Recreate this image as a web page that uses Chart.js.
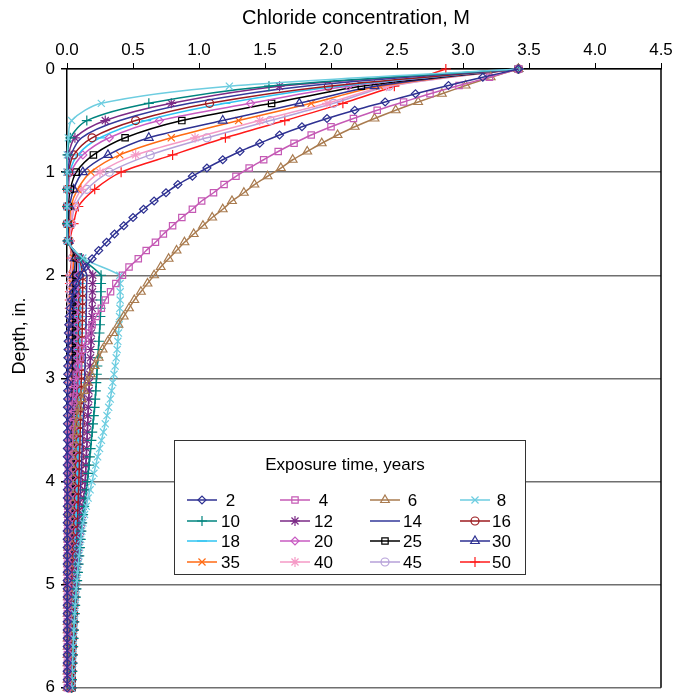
<!DOCTYPE html>
<html>
<head>
<meta charset="utf-8">
<script src="https://cdn.jsdelivr.net/npm/chart.js@4.4.1/dist/chart.umd.min.js"></script>
<style>
  html, body { margin: 0; padding: 0; background: #fff; }
</style>
</head>
<body>
<canvas id="chlorideChart" width="677" height="694"></canvas>
<script>
// depth grids, in.
const depthFine = [0, 0.08, 0.16, 0.24, 0.32, 0.40, 0.48, 0.56, 0.64, 0.72, 0.80, 0.88, 0.96, 1.04, 1.12, 1.20,
  1.28, 1.36, 1.44, 1.52, 1.60, 1.68, 1.76, 1.84, 1.92,
  2.00, 2.08, 2.16, 2.24, 2.32, 2.40, 2.48, 2.56, 2.64, 2.72, 2.80, 2.88, 2.96, 3.04, 3.12, 3.20, 3.28,
  3.36, 3.44, 3.52, 3.60, 3.68, 3.76, 3.84, 3.92, 4.00, 4.08, 4.16, 4.24, 4.32, 4.40, 4.48, 4.56, 4.64,
  4.72, 4.80, 4.88, 4.96, 5.04, 5.12, 5.20, 5.28, 5.36, 5.44, 5.52, 5.60, 5.68, 5.76, 5.84, 5.92, 6.00];
const depthTop = [0, 0.167, 0.333, 0.5, 0.667, 0.833, 1, 1.167, 1.333, 1.5, 1.667, 1.833];
const depthDeep = depthFine.slice(25);
const depthLayered = depthTop.concat(depthDeep);

const xTicks = [0, 0.5, 1, 1.5, 2, 2.5, 3, 3.5, 4, 4.5];
const yTicks = [0, 1, 2, 3, 4, 5, 6];

// chloride concentration, M (2, 4, 6 yrs on the fine grid)
const c2 = [3.42, 3.15, 2.89, 2.64, 2.41, 2.18, 1.97, 1.78, 1.61, 1.46, 1.31, 1.18, 1.06, 0.95, 0.84, 0.75, 0.66, 0.58, 0.50, 0.43, 0.36, 0.30, 0.24, 0.19, 0.14,
  0.100, 0.070, 0.050, 0.035, 0.025, 0.018, 0.014, 0.011, 0.009, 0.008, 0.007, 0.006, 0.006, 0.005, 0.005, 0.005, 0.004, 0.004, 0.004, 0.004,
  0.004, 0.003, 0.003, 0.003, 0.003, 0.003, 0.003, 0.003, 0.003, 0.003, 0.002, 0.002, 0.002, 0.002, 0.002, 0.002, 0.002, 0.002, 0.002, 0.002,
  0.002, 0.002, 0.002, 0.002, 0.002, 0.002, 0.002, 0.002, 0.002, 0.002, 0.002];
const c4 = [3.42, 3.20, 2.97, 2.75, 2.55, 2.35, 2.17, 2.00, 1.85, 1.72, 1.60, 1.49, 1.38, 1.28, 1.19, 1.11, 1.02, 0.95, 0.87, 0.80, 0.73, 0.67, 0.60, 0.54, 0.47,
  0.42, 0.37, 0.33, 0.29, 0.26, 0.22, 0.19, 0.165, 0.14, 0.12, 0.10, 0.085, 0.07, 0.06, 0.05, 0.042, 0.035, 0.030, 0.025, 0.021,
  0.018, 0.015, 0.013, 0.011, 0.010, 0.009, 0.008, 0.007, 0.007, 0.006, 0.006, 0.005, 0.005, 0.005, 0.004, 0.004, 0.004, 0.004, 0.004, 0.003,
  0.003, 0.003, 0.003, 0.003, 0.003, 0.003, 0.003, 0.003, 0.003, 0.003, 0.003];
const c6 = [3.42, 3.21, 3.02, 2.84, 2.66, 2.49, 2.33, 2.18, 2.05, 1.93, 1.82, 1.71, 1.62, 1.52, 1.42, 1.34, 1.25, 1.18, 1.10, 1.03, 0.96, 0.89, 0.83, 0.77, 0.71,
  0.66, 0.61, 0.56, 0.51, 0.47, 0.43, 0.39, 0.35, 0.31, 0.27, 0.24, 0.21, 0.18, 0.155, 0.13, 0.11, 0.09, 0.075, 0.065, 0.055,
  0.047, 0.040, 0.034, 0.029, 0.025, 0.022, 0.019, 0.017, 0.015, 0.013, 0.012, 0.011, 0.010, 0.009, 0.008, 0.008, 0.007, 0.007, 0.006, 0.006,
  0.006, 0.005, 0.005, 0.005, 0.005, 0.005, 0.004, 0.004, 0.004, 0.004, 0.004];

// 8 yrs onward: top layer (1/6 in. steps) then lower layer
const c8 = [3.42, 1.23, 0.26, 0.035, 0.010, 0.002, 0, 0, 0, 0, 0.003, 0.12,
  0.400, 0.402, 0.403, 0.403, 0.401, 0.398, 0.395, 0.390, 0.385, 0.380, 0.373, 0.365, 0.356, 0.347, 0.338, 0.328, 0.316,
  0.303, 0.290, 0.276, 0.261, 0.247, 0.232, 0.218, 0.204, 0.190, 0.175, 0.160, 0.146, 0.133, 0.121, 0.112, 0.104, 0.097,
  0.091, 0.085, 0.080, 0.075, 0.070, 0.066, 0.062, 0.058, 0.055, 0.052, 0.049, 0.046, 0.044, 0.041, 0.039, 0.037, 0.035];
const c10 = [3.42, 1.53, 0.62, 0.15, 0.025, 0.004, 0, 0, 0, 0, 0.004, 0.11,
  0.258, 0.258, 0.257, 0.256, 0.255, 0.253, 0.250, 0.246, 0.242, 0.238, 0.234, 0.230, 0.226, 0.222, 0.218, 0.214, 0.209,
  0.203, 0.197, 0.191, 0.185, 0.179, 0.173, 0.167, 0.161, 0.155, 0.147, 0.138, 0.130, 0.122, 0.115, 0.109, 0.104, 0.098,
  0.093, 0.088, 0.083, 0.077, 0.072, 0.067, 0.062, 0.059, 0.056, 0.053, 0.050, 0.047, 0.045, 0.042, 0.040, 0.037, 0.035];
const c12 = [3.42, 1.61, 0.79, 0.29, 0.06, 0.012, 0.002, 0, 0, 0, 0.005, 0.10,
  0.195, 0.194, 0.193, 0.192, 0.191, 0.190, 0.188, 0.185, 0.183, 0.180, 0.178, 0.175, 0.172, 0.169, 0.167, 0.165, 0.162,
  0.159, 0.157, 0.154, 0.152, 0.149, 0.146, 0.143, 0.141, 0.138, 0.133, 0.127, 0.121, 0.115, 0.109, 0.102, 0.096, 0.090,
  0.085, 0.080, 0.075, 0.070, 0.066, 0.062, 0.059, 0.056, 0.053, 0.050, 0.047, 0.045, 0.043, 0.041, 0.039, 0.037, 0.036];
const c14 = [3.42, 1.80, 0.93, 0.40, 0.11, 0.03, 0.006, 0.001, 0, 0, 0.006, 0.095,
  0.150, 0.149, 0.148, 0.147, 0.146, 0.145, 0.144, 0.142, 0.141, 0.139, 0.138, 0.136, 0.134, 0.132, 0.130, 0.128, 0.126,
  0.124, 0.121, 0.119, 0.117, 0.115, 0.112, 0.110, 0.107, 0.105, 0.102, 0.099, 0.096, 0.093, 0.090, 0.086, 0.083, 0.079,
  0.076, 0.072, 0.069, 0.065, 0.062, 0.059, 0.056, 0.053, 0.050, 0.048, 0.045, 0.043, 0.041, 0.039, 0.037, 0.035, 0.034];
const c16 = [3.42, 1.98, 1.08, 0.52, 0.19, 0.05, 0.012, 0.003, 0.001, 0, 0.007, 0.09,
  0.120, 0.119, 0.119, 0.118, 0.118, 0.117, 0.116, 0.115, 0.114, 0.113, 0.112, 0.111, 0.110, 0.108, 0.107, 0.106, 0.105,
  0.103, 0.102, 0.100, 0.099, 0.097, 0.095, 0.094, 0.092, 0.090, 0.088, 0.086, 0.084, 0.082, 0.080, 0.077, 0.074, 0.072,
  0.069, 0.066, 0.063, 0.061, 0.058, 0.056, 0.053, 0.051, 0.049, 0.046, 0.044, 0.042, 0.040, 0.038, 0.036, 0.035, 0.033];
const c18 = [3.42, 2.05, 1.20, 0.60, 0.25, 0.08, 0.02, 0.005, 0.001, 0.001, 0.008, 0.085,
  0.100, 0.100, 0.099, 0.099, 0.098, 0.098, 0.097, 0.096, 0.096, 0.095, 0.094, 0.093, 0.092, 0.091, 0.090, 0.089, 0.088,
  0.087, 0.086, 0.085, 0.084, 0.083, 0.082, 0.081, 0.079, 0.078, 0.076, 0.074, 0.072, 0.070, 0.068, 0.066, 0.064, 0.062,
  0.060, 0.058, 0.056, 0.054, 0.052, 0.050, 0.048, 0.046, 0.044, 0.042, 0.041, 0.039, 0.037, 0.036, 0.034, 0.033, 0.031];
const c20 = [3.42, 2.13, 1.39, 0.70, 0.32, 0.12, 0.03, 0.01, 0.003, 0.002, 0.009, 0.08,
  0.085, 0.085, 0.084, 0.084, 0.083, 0.083, 0.082, 0.082, 0.081, 0.081, 0.080, 0.079, 0.079, 0.078, 0.077, 0.076, 0.076,
  0.075, 0.074, 0.073, 0.072, 0.072, 0.071, 0.070, 0.069, 0.068, 0.066, 0.065, 0.063, 0.062, 0.060, 0.058, 0.057, 0.055,
  0.053, 0.052, 0.050, 0.048, 0.047, 0.045, 0.043, 0.042, 0.040, 0.039, 0.037, 0.036, 0.035, 0.033, 0.032, 0.031, 0.030];
const c25 = [3.42, 2.23, 1.55, 0.87, 0.44, 0.20, 0.07, 0.025, 0.01, 0.006, 0.01, 0.07,
  0.068, 0.068, 0.067, 0.067, 0.067, 0.066, 0.066, 0.065, 0.065, 0.065, 0.064, 0.064, 0.063, 0.063, 0.062, 0.062, 0.062,
  0.061, 0.061, 0.060, 0.060, 0.060, 0.059, 0.059, 0.058, 0.058, 0.057, 0.056, 0.056, 0.055, 0.054, 0.053, 0.053, 0.052,
  0.051, 0.050, 0.049, 0.048, 0.047, 0.046, 0.045, 0.044, 0.043, 0.042, 0.041, 0.040, 0.039, 0.038, 0.038, 0.037, 0.036];
const c30 = [3.42, 2.33, 1.76, 1.18, 0.62, 0.31, 0.12, 0.05, 0.02, 0.012, 0.012, 0.06,
  0.052, 0.052, 0.051, 0.051, 0.051, 0.050, 0.050, 0.050, 0.049, 0.049, 0.049, 0.048, 0.048, 0.048, 0.047, 0.047, 0.046,
  0.046, 0.046, 0.045, 0.045, 0.044, 0.044, 0.044, 0.043, 0.043, 0.042, 0.042, 0.041, 0.041, 0.040, 0.040, 0.039, 0.038,
  0.038, 0.037, 0.037, 0.036, 0.035, 0.035, 0.034, 0.033, 0.033, 0.032, 0.032, 0.031, 0.030, 0.030, 0.029, 0.029, 0.028];
const c35 = [3.42, 2.37, 1.85, 1.30, 0.79, 0.40, 0.18, 0.08, 0.03, 0.02, 0.015, 0.05,
  0.042, 0.042, 0.041, 0.041, 0.041, 0.041, 0.040, 0.040, 0.040, 0.039, 0.039, 0.039, 0.038, 0.038, 0.038, 0.037, 0.037,
  0.037, 0.036, 0.036, 0.036, 0.035, 0.035, 0.035, 0.034, 0.034, 0.033, 0.033, 0.033, 0.032, 0.032, 0.031, 0.031, 0.030,
  0.030, 0.030, 0.029, 0.029, 0.028, 0.028, 0.027, 0.027, 0.026, 0.026, 0.026, 0.025, 0.025, 0.024, 0.024, 0.023, 0.023];
const c40 = [3.42, 2.42, 1.97, 1.46, 0.97, 0.52, 0.25, 0.11, 0.045, 0.03, 0.018, 0.045,
  0.033, 0.033, 0.033, 0.032, 0.032, 0.032, 0.032, 0.031, 0.031, 0.031, 0.031, 0.030, 0.030, 0.030, 0.030, 0.029, 0.029,
  0.029, 0.028, 0.028, 0.028, 0.028, 0.027, 0.027, 0.027, 0.026, 0.026, 0.026, 0.025, 0.025, 0.025, 0.024, 0.024, 0.024,
  0.023, 0.023, 0.023, 0.022, 0.022, 0.022, 0.021, 0.021, 0.021, 0.020, 0.020, 0.020, 0.019, 0.019, 0.019, 0.018, 0.018];
const c45 = [3.42, 2.44, 2.02, 1.54, 1.06, 0.63, 0.32, 0.15, 0.06, 0.035, 0.02, 0.04,
  0.027, 0.027, 0.027, 0.026, 0.026, 0.026, 0.026, 0.026, 0.025, 0.025, 0.025, 0.025, 0.024, 0.024, 0.024, 0.024, 0.023,
  0.023, 0.023, 0.023, 0.022, 0.022, 0.022, 0.022, 0.021, 0.021, 0.021, 0.021, 0.020, 0.020, 0.020, 0.020, 0.019, 0.019,
  0.019, 0.019, 0.018, 0.018, 0.018, 0.018, 0.017, 0.017, 0.017, 0.017, 0.016, 0.016, 0.016, 0.016, 0.015, 0.015, 0.015];
const c50 = [2.87, 2.48, 2.09, 1.65, 1.20, 0.80, 0.41, 0.21, 0.086, 0.05, 0.022, 0.035,
  0.022, 0.022, 0.022, 0.021, 0.021, 0.021, 0.021, 0.021, 0.020, 0.020, 0.020, 0.020, 0.020, 0.019, 0.019, 0.019, 0.019,
  0.019, 0.018, 0.018, 0.018, 0.018, 0.018, 0.017, 0.017, 0.017, 0.017, 0.016, 0.016, 0.016, 0.016, 0.016, 0.015, 0.015,
  0.015, 0.015, 0.015, 0.014, 0.014, 0.014, 0.014, 0.014, 0.013, 0.013, 0.013, 0.013, 0.013, 0.012, 0.012, 0.012, 0.012];

const exposureYears = ['2', '4', '6', '8', '10', '12', '14', '16', '18', '20', '25', '30', '35', '40', '45', '50'];
const seriesValues = [c2, c4, c6, c8, c10, c12, c14, c16, c18, c20, c25, c30, c35, c40, c45, c50];

// look of each series, same order as exposureYears
const seriesLook = [
  { color: '#2e3192', style: 'rectRot', r: 4 },
  { color: '#c55ab5', style: 'rect', r: 4.5 },
  { color: '#a97b4f', style: 'triangle', r: 5 },
  { color: '#6dcde0', style: 'crossRot', r: 5 },
  { color: '#00847f', style: 'cross', r: 5 },
  { color: '#7b2a86', style: 'star', r: 5 },
  { color: '#33399a', style: false, r: 0 },
  { color: '#9c1b1f', style: 'circle', r: 4 },
  { color: '#2fc4f2', style: 'line', r: 5 },
  { color: '#c85bc2', style: 'rectRot', r: 4 },
  { color: '#000000', style: 'rect', r: 4.5 },
  { color: '#2e3192', style: 'triangle', r: 5 },
  { color: '#ff6a13', style: 'crossRot', r: 5 },
  { color: '#f59ac6', style: 'star', r: 5 },
  { color: '#b6a1d9', style: 'circle', r: 4 },
  { color: '#ff1a1a', style: 'cross', r: 5 },
];

const FONT = "'Liberation Sans', Arial, sans-serif";
Chart.defaults.font.family = FONT;
Chart.defaults.color = '#000';

const datasets = seriesValues.map((vals, i) => {
  const depths = vals.length === depthFine.length ? depthFine : depthLayered;
  const look = seriesLook[i];
  return {
    label: exposureYears[i],
    data: vals.map((v, k) => ({ x: v, y: depths[k] })),
    borderColor: look.color,
    backgroundColor: 'rgba(0,0,0,0)',
    borderWidth: 1.5,
    pointStyle: look.style,
    pointRadius: look.r,
    pointBorderColor: look.color,
    pointBackgroundColor: 'rgba(0,0,0,0)',
    pointBorderWidth: 1.2,
    tension: 0.3,
    fill: false,
    clip: 8,
  };
});

// axis titles sit a little off-centre in the original, so they are placed by hand
const frameAndLegend = {
  id: 'frameAndLegend',
  afterDraw(chart) {
    const { ctx, chartArea: a } = chart;
    ctx.save();
    ctx.strokeStyle = '#000';
    ctx.lineWidth = 1.5;
    ctx.beginPath();
    ctx.moveTo(a.right, a.top);
    ctx.lineTo(a.right, a.bottom);
    ctx.stroke();

    ctx.fillStyle = '#000';
    ctx.textAlign = 'center';
    ctx.textBaseline = 'middle';
    ctx.font = '20px ' + FONT;
    ctx.fillText('Chloride concentration, M', 356, 18);
    ctx.save();
    ctx.translate(20, 336);
    ctx.rotate(-Math.PI / 2);
    ctx.font = '18px ' + FONT;
    ctx.fillText('Depth, in.', 0, 0);
    ctx.restore();

    // legend box
    ctx.fillStyle = '#fff';
    ctx.fillRect(174.5, 440.5, 351, 134);
    ctx.strokeStyle = '#333';
    ctx.lineWidth = 1;
    ctx.strokeRect(174.5, 440.5, 351, 134);
    ctx.fillStyle = '#000';
    ctx.font = '17px ' + FONT;
    ctx.fillText('Exposure time, years', 345, 465);

    ctx.textAlign = 'left';
    const lineX = [187, 280, 370, 460];
    const textX = [221, 314, 403, 492];
    const rowY = [500, 521, 541, 562];
    chart.data.datasets.forEach((ds, i) => {
      const col = i % 4;
      const y = rowY[Math.floor(i / 4)];
      ctx.strokeStyle = ds.borderColor;
      ctx.lineWidth = 1.5;
      ctx.beginPath();
      ctx.moveTo(lineX[col], y);
      ctx.lineTo(lineX[col] + 30, y);
      ctx.stroke();
      if (ds.pointStyle && Chart.helpers && Chart.helpers.drawPoint) {
        ctx.fillStyle = 'rgba(0,0,0,0)';
        ctx.lineWidth = 1.2;
        Chart.helpers.drawPoint(ctx, { pointStyle: ds.pointStyle, rotation: 0, radius: ds.pointRadius, borderWidth: 1.2 }, lineX[col] + 15, y);
      }
      ctx.fillStyle = '#000';
      ctx.fillText(ds.label.length === 1 ? ' ' + ds.label : ds.label, textX[col], y + 1);
    });
    ctx.restore();
  },
};

new Chart(document.getElementById('chlorideChart'), {
  type: 'line',
  data: { datasets },
  plugins: [frameAndLegend],
  options: {
    responsive: false,
    animation: false,
    layout: { padding: { right: 16, bottom: 5 } },
    plugins: { legend: { display: false }, tooltip: { enabled: false } },
    scales: {
      x: {
        type: 'linear',
        position: 'top',
        min: 0,
        max: 4.5,
        afterBuildTicks: (s) => { s.ticks = xTicks.map(v => ({ value: v })); },
        afterFit: (s) => { s.height = 69; s.paddingLeft = 0; s.paddingRight = 0; },
        ticks: { callback: v => v.toFixed(1), font: { size: 17 }, color: '#000', padding: 2, maxRotation: 0, autoSkip: false },
        grid: { drawOnChartArea: false, tickLength: 6, color: '#000', lineWidth: 1 },
        border: { color: '#000', width: 1.5 },
      },
      y: {
        type: 'linear',
        reverse: true,
        min: 0,
        max: 6,
        afterBuildTicks: (s) => { s.ticks = yTicks.map(v => ({ value: v })); },
        afterFit: (s) => { s.width = 67; s.paddingTop = 0; s.paddingBottom = 0; },
        ticks: { font: { size: 17 }, color: '#000', padding: 6, autoSkip: false },
        grid: { color: '#6f6f6f', lineWidth: 1.5, tickLength: 6, tickColor: '#000' },
        border: { color: '#000', width: 1.5 },
      },
    },
  },
});
</script>
</body>
</html>
